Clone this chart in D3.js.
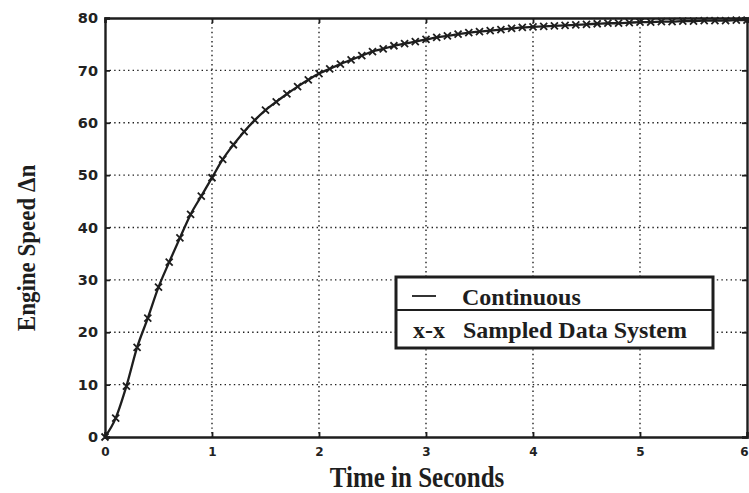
<!DOCTYPE html>
<html lang="en">
  <head>
    <meta charset="UTF-8" />
    <title>Engine Speed Response</title>
    <script src="https://d3js.org/d3.v7.min.js"></script>
    <style>
      body { margin: 0; background: #fff; }
      svg { display: block; }
      .tick-label { font-family: "DejaVu Sans", sans-serif; font-weight: bold; fill: #222; }
      .title { font-family: "Liberation Serif", "Times New Roman", serif; font-weight: bold; fill: #1e1e1e; }
    </style>
  </head>
  <body>
    <svg></svg>
    <script>
      // sample times (s) and engine speed
      const timeSec = [
        0.0, 0.1, 0.2, 0.3, 0.4, 0.5, 0.6, 0.7, 0.8, 0.9,
        1.0, 1.1, 1.2, 1.3, 1.4, 1.5, 1.6, 1.7, 1.8, 1.9,
        2.0, 2.1, 2.2, 2.3, 2.4, 2.5, 2.6, 2.7, 2.8, 2.9,
        3.0, 3.1, 3.2, 3.3, 3.4, 3.5, 3.6, 3.7, 3.8, 3.9,
        4.0, 4.1, 4.2, 4.3, 4.4, 4.5, 4.6, 4.7, 4.8, 4.9,
        5.0, 5.1, 5.2, 5.3, 5.4, 5.5, 5.6, 5.7, 5.8, 5.9, 6.0
      ];
      const engineSpeed = [
        0.0, 3.6, 9.7, 17.1, 22.7, 28.6, 33.4, 38.0, 42.5, 46.0,
        49.5, 53.0, 55.8, 58.3, 60.5, 62.4, 64.0, 65.5, 66.9, 68.2,
        69.4, 70.3, 71.2, 72.0, 72.8, 73.6, 74.1, 74.7, 75.1, 75.5,
        75.9, 76.3, 76.6, 76.9, 77.2, 77.4, 77.6, 77.8, 78.0, 78.2,
        78.3, 78.4, 78.5, 78.6, 78.7, 78.8, 78.9, 79.0, 79.0, 79.1,
        79.2, 79.2, 79.3, 79.3, 79.4, 79.4, 79.5, 79.5, 79.5, 79.6, 79.6
      ];
      const xTicks = [0, 1, 2, 3, 4, 5, 6];
      const yTicks = [0, 10, 20, 30, 40, 50, 60, 70, 80];
      const legendLabels = ["Continuous", "Sampled Data System"];

      const width = 749, height = 493;
      const svg = d3.select("svg").attr("width", width).attr("height", height);

      const x = d3.scaleLinear().domain([0, 6]).range([105, 747]);
      const y = d3.scaleLinear().domain([0, 80]).range([437, 18]);
      const ink = "#1e1e1e";

      // dotted grid
      svg.append("g")
        .selectAll("line")
        .data(yTicks.slice(1, -1))
        .join("line")
        .attr("x1", x(0)).attr("x2", x(6))
        .attr("y1", d => y(d)).attr("y2", d => y(d))
        .attr("stroke", ink).attr("stroke-width", 1.4)
        .attr("stroke-dasharray", "1.4,3.2");
      svg.append("g")
        .selectAll("line")
        .data(xTicks.slice(1, -1))
        .join("line")
        .attr("x1", d => x(d)).attr("x2", d => x(d))
        .attr("y1", y(80)).attr("y2", y(0))
        .attr("stroke", ink).attr("stroke-width", 1.4)
        .attr("stroke-dasharray", "1.4,3.2");

      // axes with inward ticks
      const axBottom = svg.append("g")
        .attr("transform", `translate(0,${y(0)})`)
        .call(d3.axisBottom(x).tickValues(xTicks).tickSize(-5).tickPadding(13).tickFormat(d3.format("d")));
      const axTop = svg.append("g")
        .attr("transform", `translate(0,${y(80)})`)
        .call(d3.axisTop(x).tickValues(xTicks).tickSize(-5).tickFormat(""));
      const axLeft = svg.append("g")
        .attr("transform", `translate(${x(0)},0)`)
        .call(d3.axisLeft(y).tickValues(yTicks).tickSize(-5).tickPadding(7).tickFormat(d3.format("d")));
      const axRight = svg.append("g")
        .attr("transform", `translate(${x(6)},0)`)
        .call(d3.axisRight(y).tickValues(yTicks).tickSize(-5).tickFormat(""));
      [axBottom, axTop, axLeft, axRight].forEach(g => {
        g.select(".domain").attr("stroke", ink).attr("stroke-width", 2.4);
        g.selectAll(".tick line").attr("stroke", ink).attr("stroke-width", 1.8);
      });
      axBottom.selectAll("text").attr("class", "tick-label").style("font-size", "12px").attr("dy", "0.5em");
      // last label sits at the page edge: keep it inside
      axBottom.selectAll("text").filter(d => d === 6).attr("text-anchor", "end").attr("x", 1);
      axLeft.selectAll("text").attr("class", "tick-label").style("font-size", "14.5px");

      // curve (continuous) and sampled markers
      const pts = timeSec.map((t, i) => [t, engineSpeed[i]]);
      svg.append("path")
        .datum(pts)
        .attr("fill", "none")
        .attr("stroke", ink)
        .attr("stroke-width", 2.3)
        .attr("d", d3.line().x(d => x(d[0])).y(d => y(d[1])).curve(d3.curveMonotoneX));
      svg.append("g")
        .selectAll("path")
        .data(pts)
        .join("path")
        .attr("transform", d => `translate(${x(d[0])},${y(d[1])})`)
        .attr("d", "M-3.5,-3.5L3.5,3.5M-3.5,3.5L3.5,-3.5")
        .attr("stroke", ink)
        .attr("stroke-width", 1.8);

      // axis titles
      svg.append("text")
        .attr("class", "title")
        .attr("transform", `translate(417,487) scale(1,1.2)`)
        .attr("text-anchor", "middle")
        .style("font-size", "25px")
        .text("Time in Seconds");
      svg.append("text")
        .attr("class", "title")
        .attr("transform", `translate(35,248) rotate(-90) scale(1,1.1)`)
        .attr("text-anchor", "middle")
        .style("font-size", "23px")
        .text("Engine Speed \u0394n");

      // legend
      const lg = svg.append("g").attr("transform", "translate(396,277)");
      lg.append("rect")
        .attr("width", 317).attr("height", 71)
        .attr("fill", "#fff").attr("stroke", ink).attr("stroke-width", 3);
      lg.append("line")
        .attr("x1", 0).attr("x2", 317).attr("y1", 33).attr("y2", 33)
        .attr("stroke", ink).attr("stroke-width", 2);
      lg.append("line")
        .attr("x1", 16).attr("x2", 40).attr("y1", 19).attr("y2", 19)
        .attr("stroke", ink).attr("stroke-width", 1.8);
      lg.append("text")
        .attr("class", "title").style("font-size", "24px")
        .attr("x", 17).attr("y", 61).text("x-x");
      lg.selectAll("text.entry")
        .data(legendLabels)
        .join("text")
        .attr("class", "title entry")
        .style("font-size", "24px")
        .attr("x", (d, i) => i === 0 ? 66 : 67)
        .attr("y", (d, i) => i === 0 ? 28 : 61)
        .text(d => d);
    </script>
  </body>
</html>
